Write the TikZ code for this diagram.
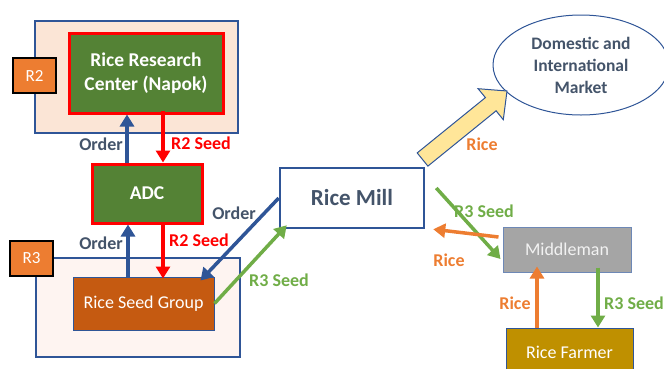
\documentclass[tikz,border=0pt]{standalone}
\usepackage{fontspec}
\setmainfont{Carlito}
\usetikzlibrary{arrows.meta,shapes.geometric}

\definecolor{slate}{HTML}{44546A}
\definecolor{blueline}{HTML}{2F5597}
\definecolor{rrcgreen}{HTML}{548235}
\definecolor{seedbrown}{HTML}{C55A11}
\definecolor{tagorange}{HTML}{ED7D31}
\definecolor{seedgreen}{HTML}{70AD47}
\definecolor{peach}{HTML}{FBE5D6}
\definecolor{blush}{HTML}{FEF4F1}
\definecolor{millgray}{HTML}{A5A5A5}
\definecolor{farmergold}{HTML}{BF9000}
\definecolor{riceyellow}{HTML}{FFE699}

\begin{document}
\begin{tikzpicture}[x=1pt,y=1pt,yscale=-1,
  box/.style={draw=blueline,line width=1pt,text=white,align=center,inner sep=0pt},
  redbox/.style={box,draw=red,line width=3pt,fill=rrcgreen,font=\fontsize{19.5}{24}\selectfont\bfseries},
  tag/.style={draw=black,line width=2pt,fill=tagorange,text=white,minimum width=43pt,minimum height=35pt,inner sep=0pt,font=\fontsize{17}{20}\selectfont},
  flow/.style={line width=3.5pt,-{Triangle[length=12pt,width=14pt]}},
  lab/.style={font=\fontsize{18}{21}\selectfont\bfseries,inner sep=0pt},
]
\clip (0,0) rectangle (664,368);

%Shape: Rectangle
\draw [draw=blueline,line width=1.5pt,fill=peach] (35,21) rectangle (238,133);
%Shape: Rectangle
\draw [draw=blueline,line width=1.5pt,fill=blush] (36,258) rectangle (240,357);

%Shape: Rectangle
\node [tag] (r2) at (34.5,75.5) {R2};
\node [redbox,minimum width=154pt,minimum height=80pt] (rrc) at (146,73) {Rice Research\\Center (Napok)};
\node [redbox,minimum width=110pt,minimum height=59pt] (adc) at (147,193.5) {ADC};
\node [tag] (r3) at (31.5,258.5) {R3};
\node [box,fill=seedbrown,minimum width=141pt,minimum height=53pt,font=\fontsize{18}{20}\selectfont] (rsg) at (143.5,303.5) {Rice Seed Group};
\node [box,fill=white,line width=2.5pt,text=slate,minimum width=144pt,minimum height=60pt,font=\fontsize{23}{26}\selectfont\bfseries] (mill) at (352,198) {Rice Mill};
%Shape: Ellipse
\node [ellipse,draw=blueline,line width=1pt,fill=white,text=slate,align=center,inner sep=0pt,minimum width=176pt,minimum height=100pt,font=\fontsize{17.5}{22}\selectfont\bfseries] (market) at (581,65) {Domestic and\\International\\Market};
\node [box,draw=blueline!70,fill=millgray,text=white!95!black,minimum width=128pt,minimum height=45pt,font=\fontsize{18}{20}\selectfont] (middle) at (567,249.5) {Middleman};
\node [box,fill=farmergold,minimum width=127pt,minimum height=48pt,font=\fontsize{18}{20}\selectfont] (farmer) at (569.5,352) {Rice Farmer};

%Shape: Arrow
\draw [draw=blueline,line width=1pt,fill=riceyellow] (417.2,152.9) -- (485.4,97.6) -- (478.1,88.7) -- (507,91) -- (503.3,119.7) -- (496.1,110.8) -- (427.9,166.1) -- cycle;

%Straight Lines
\draw [flow,blueline] ([xshift=-20pt]adc.north) -- ([xshift=-19pt]rrc.south);
\draw [flow,red] ([xshift=17pt,yshift=-4pt]rrc.south) -- ([xshift=16pt]adc.north);
\draw [flow,blueline] ([xshift=-15.5pt]rsg.north) -- ([xshift=-19pt]adc.south);
\draw [flow,red] ([xshift=16pt,yshift=-2pt]adc.south) -- ([xshift=19.5pt,yshift=2pt]rsg.north);
\draw [flow,blueline] (mill.west) -- ([xshift=-14pt,yshift=4pt]rsg.north east);
\draw [flow,seedgreen] (rsg.east) -- ([xshift=8pt,yshift=-4pt]mill.south west);
\draw [flow,seedgreen] ([xshift=11pt,yshift=-10pt]mill.east) -- ([xshift=-2pt,yshift=9.5pt]middle.west);
\draw [flow,tagorange] ([xshift=-4pt,yshift=-12.5pt]middle.west) -- ([xshift=8pt]mill.south east);
\draw [flow,tagorange] ([xshift=-32.5pt]farmer.north) -- ([xshift=-30pt,yshift=-6pt]middle.south);
\draw [flow,seedgreen] ([xshift=31pt,yshift=-5pt]middle.south) -- ([xshift=28.5pt]farmer.north);

% Text Node
\node [lab,text=slate] (ord1) at (101,144) {Order};
% Text Node
\node [lab,text=red] (seedlab1) at (201,143) {R2 Seed};
% Text Node
\node [lab,text=slate] (ord2) at (101,243) {Order};
% Text Node
\node [lab,text=red] (seedlab2) at (199,240) {R2 Seed};
% Text Node
\node [lab,text=slate] (ord3) at (234,213) {Order};
% Text Node
\node [lab,text=seedgreen] (seedlab3) at (279,280) {R3 Seed};
% Text Node
\node [lab,text=tagorange] (ricelab1) at (482,144) {Rice};
% Text Node
\node [lab,text=seedgreen] (seedlab4) at (484,211) {R3 Seed};
% Text Node
\node [lab,text=tagorange] (ricelab2) at (449,260) {Rice};
% Text Node
\node [lab,text=tagorange] (ricelab3) at (515,303) {Rice};
% Text Node
\node [lab,text=seedgreen] (seedlab5) at (634,303) {R3 Seed};

\end{tikzpicture}
\end{document}
